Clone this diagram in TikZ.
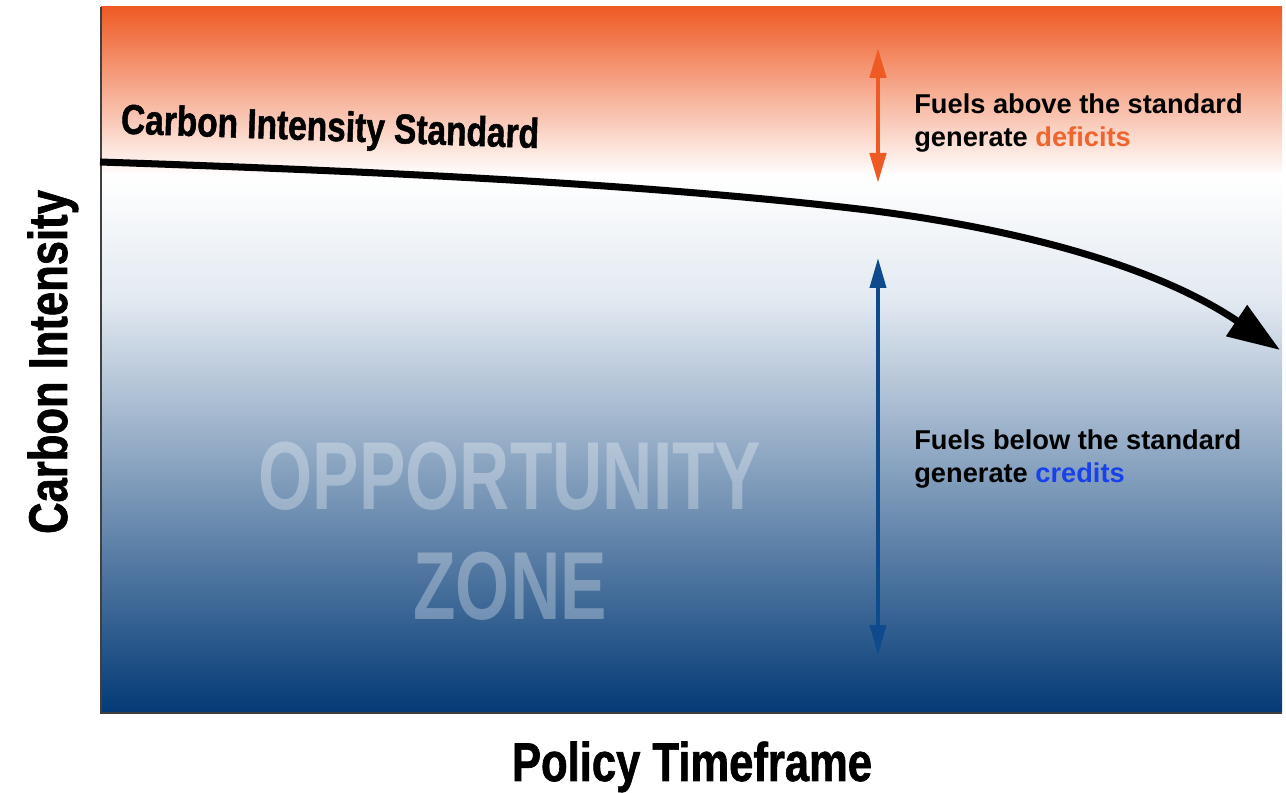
\documentclass[tikz,border=0pt]{standalone}
\usepackage{fontspec}
\setmainfont{Liberation Sans}
\newfontfamily\condfont[FakeStretch=0.8,FakeBold=1.2]{Liberation Sans}
\newfontfamily\zonefont[FakeStretch=0.72]{Liberation Sans}
\usepackage{xcolor}
\definecolor{ciorange}{RGB}{238,90,36}
\definecolor{cipale}{RGB}{226,233,241}
\definecolor{cinavy}{RGB}{3,58,118}
\definecolor{deforange}{RGB}{240,100,45}
\definecolor{credblue}{RGB}{25,65,235}
\definecolor{gaugeblue}{RGB}{15,75,140}
\definecolor{zonegrey}{RGB}{190,208,226}
\usepackage{tikz}
\usetikzlibrary{positioning}
\usetikzlibrary{arrows.meta}
\usetikzlibrary{calc}
\tikzset{note/.style={align=left,anchor=north west,inner sep=0pt,font=\bfseries\fontsize{15.5}{19.3}\selectfont},
	axis label/.style={inner sep=0pt,anchor=base,font=\condfont\bfseries\fontsize{31}{36}\selectfont},
	zone text/.style={inner sep=0pt,text=white,text opacity=0.3,font=\zonefont\bfseries\fontsize{55}{60}\selectfont},
	gauge/.style={line width=2.6pt,{Triangle[length=0.6cm,width=0.32cm]}-{Triangle[length=0.6cm,width=0.32cm]}},
	standard/.style={line width=4pt,-{Triangle[length=1.05cm,width=0.72cm]}},}

\begin{document}
\begin{tikzpicture}[x=0.02cm, y=-0.02cm]
		\useasboundingbox (0,0) rectangle (1286,793);
		% background bands
		\shade[top color=ciorange, bottom color=white] (101,7) rectangle (1282,176);
		\shade[top color=white, bottom color=cipale] (101,175) rectangle (1282,301);
		\shade[top color=cipale, bottom color=cinavy] (101,300) rectangle (1282,713);
		\draw[black!75, line width=1pt] (101,7) -- (101,713) -- (1282,713);

		\node[zone text, anchor=base] (opp) at (510,510) {OPPORTUNITY};
		\node[zone text] (zone) [below = 0.8cm of opp] {ZONE};

		\coordinate (s0) at (100,162);
		\coordinate (s1) at (850,208);
		\coordinate (s2) at (1280,350);
		\draw[standard] (s0) .. controls (400,172) and (650,185) .. (s1)
			.. controls (1000,225) and (1150,262) .. (s2);

		\node[inner sep=0pt, rotate=-2, font=\condfont\bfseries\fontsize{23.8}{28}\selectfont] (cis) at (330,130) {Carbon Intensity Standard};

		\coordinate (defTop) at (878,48);
		\coordinate (defBot) at (878,183);
		\coordinate (credTop) at (878,258);
		\coordinate (credBot) at (878,655);
		\draw[gauge, ciorange] (defTop) -- (defBot);
		\draw[gauge, gaugeblue, line width=2.2pt] (credTop) -- (credBot);

		\node[note] (above) at (914,93) {Fuels above the standard\\generate \textcolor{deforange}{deficits}};
		\node[note] (below) at (914,429) {Fuels below the standard\\generate \textcolor{credblue}{credits}};

		\node[axis label, rotate=90] (yaxis) at (67,362) {Carbon Intensity};
		\node[axis label] (xaxis) at (692,781) {Policy Timeframe};
	\end{tikzpicture}
\end{document}
